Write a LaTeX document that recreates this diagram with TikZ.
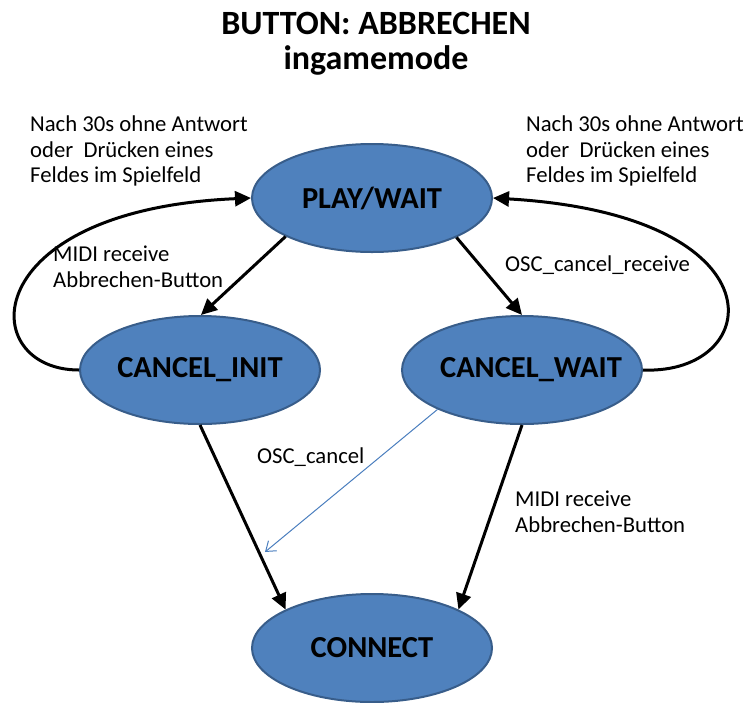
\documentclass[tikz,border=0pt]{standalone}
\usepackage{fontspec}
\setmainfont{Carlito}
\usetikzlibrary{arrows.meta,shapes.geometric}

\definecolor{statefill}{RGB}{79,129,189}
\definecolor{stateline}{RGB}{56,93,138}
\definecolor{osclink}{RGB}{74,126,190}

% state text should not widen the ellipse
\newcommand{\statename}[1]{\makebox[0pt]{#1}}

\tikzset{
    state/.style={ellipse, draw=stateline, fill=statefill, line width=2pt,
        minimum width=240pt, minimum height=108pt, inner sep=0pt,
        font=\fontsize{30.5}{34}\selectfont\bfseries},
    trans/.style={line width=3pt, -{Triangle[length=16pt,width=15pt]}},
    note/.style={anchor=north west, align=left, inner sep=0pt,
        font=\fontsize{22.7}{25.5}\selectfont}
}

\begin{document}
\begin{tikzpicture}[x=1pt, y=-1pt]
    \useasboundingbox (0,0) rectangle (747,702);

    % Heading
    \node (title) at (376,12) [anchor=north, align=center, inner sep=0pt,
        font=\fontsize{34}{35}\selectfont\bfseries] {BUTTON: ABBRECHEN\\ingamemode};

    % States
    \node (play) at (372,198) [state] {\statename{PLAY/WAIT}};
    \node (init) at (200,370) [state] {\statename{CANCEL\_INIT}};
    \node (wait) at (522,370) [state] {\statename{\hspace*{18pt}CANCEL\_WAIT}};
    \node (connect) at (372,648) [state] {\statename{CONNECT}};

    % Transitions out of PLAY/WAIT
    \draw[trans] (play.204.6) -- (init.89);
    \draw[trans] (play.335) -- (wait.90);

    % Timeout loops back to PLAY/WAIT
    \draw[trans] (init.west) .. controls (-25,370) and (-25,210) .. (play.west);
    \draw[trans] (wait.east) .. controls (765,375) and (785,215) .. (play.east);

    % Transitions into CONNECT
    \draw[trans] (init.south) -- (connect.156);
    \draw[trans] (wait.south) -- (connect.24);

    % OSC_cancel goes off towards the left branch
    \coordinate (osctip) at (265,552);
    \draw[osclink, line width=1pt, -{Straight Barb[length=9pt,width=13pt]}] (wait.205.5) -- (osctip);

    % Labels
    \node (backleft) at (30,116) [note] {Nach 30s ohne Antwort\\oder\ \ Drücken eines\\Feldes im Spielfeld};
    \node (backright) at (526,116) [note] {Nach 30s ohne Antwort\\oder\ \ Drücken eines\\Feldes im Spielfeld};
    \node (midileft) at (53,246) [note] {MIDI receive\\Abbrechen-Button};
    \node (oscrecv) at (505,256) [note] {OSC\_cancel\_receive};
    \node (osccancel) at (257,448) [note] {OSC\_cancel};
    \node (midiright) at (515,491) [note] {MIDI receive\\Abbrechen-Button};

\end{tikzpicture}
\end{document}
